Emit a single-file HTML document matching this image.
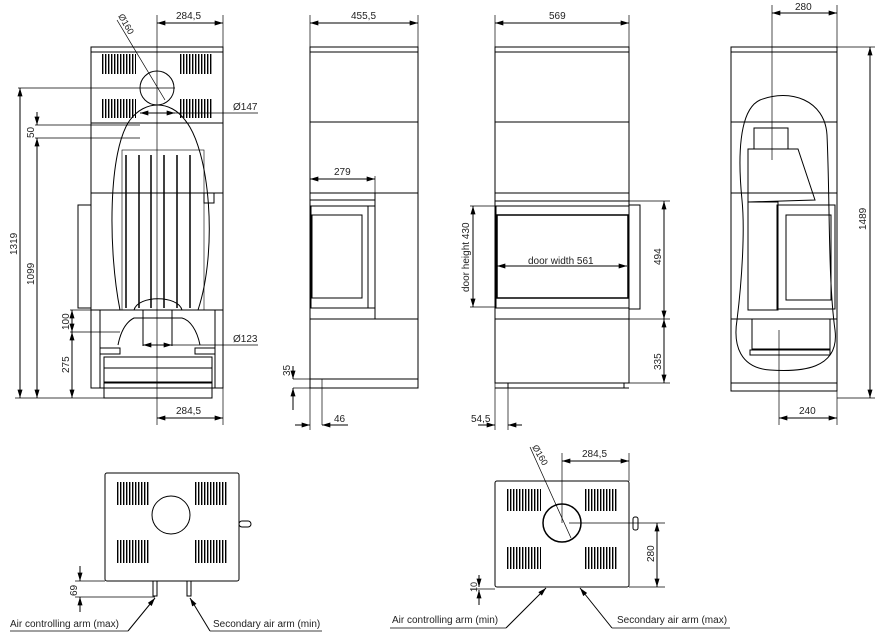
<!DOCTYPE html>
<html><head><meta charset="utf-8"><style>
html,body{margin:0;padding:0;background:#fff}
svg{display:block}
text{font-family:"Liberation Sans",sans-serif;font-size:10px;fill:#222}
</style></head><body>
<svg width="892" height="638" viewBox="0 0 892 638" xmlns="http://www.w3.org/2000/svg">
<defs>
<marker id="a" viewBox="0 0 10 6" refX="10" refY="3" markerWidth="9" markerHeight="5" orient="auto-start-reverse"><path d="M0,0L10,3L0,6z" fill="#000"/></marker>
<pattern id="v" width="3" height="10" patternUnits="userSpaceOnUse"><rect x="0" y="0" width="1.4" height="10" fill="#000"/></pattern>
</defs>
<g fill="none" stroke="#000" stroke-width="1">
<!-- VIEW 1 -->
<rect x="91" y="47" width="132" height="341"/>
<line x1="91" y1="52" x2="223" y2="52"/>
<line x1="91" y1="123" x2="223" y2="123"/>
<line x1="91" y1="193" x2="223" y2="193"/>
<line x1="91" y1="310" x2="223" y2="310"/>
<rect x="78" y="205" width="13" height="103"/>
<rect x="102" y="54" width="34" height="20" fill="url(#v)" stroke="none"/>
<rect x="180" y="54" width="33" height="20" fill="url(#v)" stroke="none"/>
<rect x="102" y="99" width="34" height="19" fill="url(#v)" stroke="none"/>
<rect x="180" y="99" width="33" height="19" fill="url(#v)" stroke="none"/>
<circle cx="157" cy="88" r="17"/>
<path d="M120,310 C108,250 108,150 130,120 C145,100 170,100 185,120 C210,150 218,250 198,310"/>
<rect x="122" y="150" width="82" height="160" stroke-width="0.6"/>
<g stroke-width="1.5"><line x1="126" y1="155" x2="126" y2="308"/><line x1="139" y1="155" x2="139" y2="308"/><line x1="151" y1="155" x2="151" y2="308"/><line x1="164" y1="155" x2="164" y2="308"/><line x1="177" y1="155" x2="177" y2="308"/><line x1="190" y1="155" x2="190" y2="308"/></g>
<rect x="204" y="193" width="10" height="10"/>
<path d="M134,310 C138,295 178,295 182,310 M118,345 C122,325 130,320 134,318 L182,318 C190,320 197,330 200,345"/>
<line x1="143" y1="310" x2="143" y2="346"/><line x1="172" y1="310" x2="172" y2="346"/>
<rect x="100" y="348" width="20" height="6"/><rect x="195" y="348" width="20" height="6"/>
<rect x="104" y="357" width="108" height="11"/>
<rect x="104" y="368" width="108" height="14"/>
<rect x="104" y="383" width="108" height="15"/>
<line x1="100" y1="310" x2="100" y2="388"/><line x1="215" y1="310" x2="215" y2="388"/>
<!-- dims view1 -->
<line x1="157" y1="15" x2="157" y2="425" stroke-width="0.7"/>
<line x1="223" y1="15" x2="223" y2="47" stroke-width="0.7"/>
<line x1="157" y1="23" x2="223" y2="23" marker-start="url(#a)" marker-end="url(#a)"/>
<line x1="117" y1="20" x2="165" y2="100" stroke-width="0.7"/>
<line x1="18" y1="88" x2="175" y2="88" stroke-width="0.7"/>
<line x1="20" y1="88" x2="20" y2="398" marker-start="url(#a)" marker-end="url(#a)"/>
<line x1="35" y1="125" x2="140" y2="125" stroke-width="0.7"/>
<line x1="35" y1="138" x2="140" y2="138" stroke-width="0.7"/>
<line x1="37" y1="112" x2="37" y2="125" marker-end="url(#a)"/>
<line x1="37" y1="138" x2="37" y2="398" marker-start="url(#a)" marker-end="url(#a)"/>
<line x1="15" y1="398" x2="110" y2="398" stroke-width="0.7"/>
<line x1="140" y1="113" x2="258" y2="113" stroke-width="0.7"/>
<line x1="140" y1="113" x2="175" y2="113" marker-start="url(#a)" marker-end="url(#a)"/>
<line x1="70" y1="310" x2="95" y2="310" stroke-width="0.7"/>
<line x1="70" y1="332" x2="120" y2="332" stroke-width="0.7"/>
<line x1="72" y1="310" x2="72" y2="332" marker-start="url(#a)" marker-end="url(#a)"/>
<line x1="72" y1="332" x2="72" y2="398" marker-start="url(#a)" marker-end="url(#a)"/>
<line x1="143" y1="345" x2="258" y2="345" stroke-width="0.7"/>
<line x1="143" y1="345" x2="172" y2="345" marker-start="url(#a)" marker-end="url(#a)"/>
<line x1="223" y1="388" x2="223" y2="425" stroke-width="0.7"/>
<line x1="157" y1="418" x2="223" y2="418" marker-start="url(#a)" marker-end="url(#a)"/>

<!-- VIEW 2 side -->
<rect x="310" y="47" width="108" height="332"/>
<line x1="310" y1="52" x2="418" y2="52"/>
<line x1="310" y1="122" x2="418" y2="122"/>
<line x1="310" y1="193" x2="418" y2="193"/>
<line x1="310" y1="200" x2="375" y2="200"/>
<rect x="311" y="206" width="64" height="102"/>
<rect x="312" y="215" width="50" height="83"/>
<line x1="368" y1="206" x2="368" y2="308"/>
<line x1="375" y1="193" x2="375" y2="319"/>
<line x1="310" y1="319" x2="418" y2="319"/>
<rect x="310" y="379" width="108" height="9"/>
<line x1="322" y1="379" x2="322" y2="425" stroke-width="0.7"/>
<line x1="310" y1="15" x2="310" y2="47" stroke-width="0.7"/><line x1="418" y1="15" x2="418" y2="47" stroke-width="0.7"/>
<line x1="310" y1="23" x2="418" y2="23" marker-start="url(#a)" marker-end="url(#a)"/>
<line x1="375" y1="176" x2="375" y2="193" stroke-width="0.7"/>
<line x1="310" y1="179" x2="375" y2="179" marker-start="url(#a)" marker-end="url(#a)"/>
<line x1="293" y1="379" x2="310" y2="379" stroke-width="0.7"/>
<line x1="293" y1="388" x2="310" y2="388" stroke-width="0.7"/>
<line x1="293" y1="366" x2="293" y2="379" marker-end="url(#a)"/>
<line x1="293" y1="410" x2="293" y2="388" marker-end="url(#a)"/>
<line x1="310" y1="379" x2="310" y2="430" stroke-width="0.7"/>
<line x1="295" y1="425" x2="310" y2="425" marker-end="url(#a)"/>
<line x1="348" y1="425" x2="322" y2="425" marker-end="url(#a)"/>

<!-- VIEW 3 front -->
<rect x="495" y="47" width="134" height="336"/>
<line x1="495" y1="52" x2="629" y2="52"/>
<line x1="495" y1="122" x2="629" y2="122"/>
<line x1="495" y1="193" x2="629" y2="193"/>
<line x1="495" y1="201" x2="629" y2="201"/>
<rect x="496" y="206" width="133" height="102"/>
<rect x="497" y="215" width="131" height="83" stroke-width="1.5"/>
<line x1="495" y1="319" x2="629" y2="319"/>
<rect x="629" y="205" width="11" height="104"/>
<line x1="495" y1="388" x2="629" y2="388"/>
<rect x="508" y="383" width="116" height="5"/>
<line x1="508" y1="383" x2="508" y2="430" stroke-width="0.7"/>
<line x1="495" y1="15" x2="495" y2="47" stroke-width="0.7"/><line x1="629" y1="15" x2="629" y2="47" stroke-width="0.7"/>
<line x1="495" y1="23" x2="629" y2="23" marker-start="url(#a)" marker-end="url(#a)"/>
<line x1="470" y1="206" x2="495" y2="206" stroke-width="0.7"/><line x1="470" y1="307" x2="495" y2="307" stroke-width="0.7"/>
<line x1="473" y1="206" x2="473" y2="307" marker-start="url(#a)" marker-end="url(#a)"/>
<line x1="497" y1="266" x2="627" y2="266" marker-start="url(#a)" marker-end="url(#a)"/>
<line x1="629" y1="201" x2="670" y2="201" stroke-width="0.7"/>
<line x1="629" y1="319" x2="670" y2="319" stroke-width="0.7"/>
<line x1="629" y1="383" x2="670" y2="383" stroke-width="0.7"/>
<line x1="664" y1="201" x2="664" y2="319" marker-start="url(#a)" marker-end="url(#a)"/>
<line x1="664" y1="319" x2="664" y2="383" marker-start="url(#a)" marker-end="url(#a)"/>
<line x1="495" y1="383" x2="495" y2="430" stroke-width="0.7"/>
<line x1="478" y1="425" x2="495" y2="425" marker-end="url(#a)"/>
<line x1="522" y1="425" x2="508" y2="425" marker-end="url(#a)"/>

<!-- VIEW 4 rear -->
<rect x="731" y="47" width="106" height="336"/>
<line x1="731" y1="52" x2="837" y2="52"/>
<line x1="731" y1="122" x2="837" y2="122"/>
<line x1="731" y1="193" x2="837" y2="193"/>
<line x1="731" y1="319" x2="837" y2="319"/>
<rect x="731" y="383" width="106" height="8"/>
<path d="M760,100 C790,88 825,100 827,135 C830,200 828,280 835,330 C840,370 800,372 770,370 C740,368 733,345 737,320 C742,280 745,230 742,200 C738,160 738,110 760,100z"/>
<rect x="754" y="128" width="34" height="21"/>
<path d="M748,149 L798,149 L815,200 L748,202z"/>
<rect x="748" y="202" width="30" height="108"/>
<rect x="777" y="205" width="58" height="104"/>
<rect x="786" y="215" width="45" height="85"/>
<rect x="752" y="319" width="78" height="30"/>
<rect x="750" y="350" width="80" height="5"/>
<line x1="772" y1="5" x2="772" y2="160" stroke-width="0.7"/>
<line x1="837" y1="5" x2="837" y2="47" stroke-width="0.7"/>
<line x1="772" y1="13" x2="837" y2="13" marker-start="url(#a)" marker-end="url(#a)"/>
<line x1="837" y1="47" x2="875" y2="47" stroke-width="0.7"/>
<line x1="837" y1="398" x2="875" y2="398" stroke-width="0.7"/>
<line x1="870" y1="47" x2="870" y2="398" marker-start="url(#a)" marker-end="url(#a)"/>
<line x1="779" y1="330" x2="779" y2="425" stroke-width="0.7"/>
<line x1="837" y1="391" x2="837" y2="425" stroke-width="0.7"/>
<line x1="779" y1="418" x2="837" y2="418" marker-start="url(#a)" marker-end="url(#a)"/>

<!-- BOTTOM VIEW 1 -->
<rect x="105" y="473" width="134" height="108" rx="2"/>
<rect x="117" y="482" width="33" height="23" fill="url(#v)" stroke="none"/>
<rect x="194" y="482" width="34" height="23" fill="url(#v)" stroke="none"/>
<rect x="117" y="540" width="33" height="23" fill="url(#v)" stroke="none"/>
<rect x="194" y="540" width="34" height="23" fill="url(#v)" stroke="none"/>
<circle cx="171" cy="515" r="19"/>
<rect x="239" y="521" width="12" height="6" rx="3"/>
<rect x="153" y="581" width="4" height="15"/><rect x="187" y="581" width="4" height="15"/>
<line x1="75" y1="581" x2="105" y2="581" stroke-width="0.7"/>
<line x1="75" y1="597" x2="155" y2="597" stroke-width="0.7"/>
<line x1="80" y1="566" x2="80" y2="581" marker-end="url(#a)"/>
<line x1="80" y1="612" x2="80" y2="597" marker-end="url(#a)"/>
<line x1="10" y1="631" x2="128" y2="631" stroke-width="0.7"/>
<line x1="128" y1="631" x2="155" y2="598" marker-end="url(#a)"/>
<line x1="322" y1="631" x2="210" y2="631" stroke-width="0.7"/>
<line x1="210" y1="631" x2="190" y2="598" marker-end="url(#a)"/>

<!-- BOTTOM VIEW 2 -->
<rect x="495" y="481" width="134" height="106" rx="2"/>
<rect x="507" y="489" width="34" height="22" fill="url(#v)" stroke="none"/>
<rect x="584" y="489" width="33" height="22" fill="url(#v)" stroke="none"/>
<rect x="507" y="547" width="34" height="22" fill="url(#v)" stroke="none"/>
<rect x="584" y="547" width="33" height="22" fill="url(#v)" stroke="none"/>
<circle cx="562" cy="523" r="19" stroke-width="1.5"/>
<rect x="633" y="517" width="5" height="13" rx="2"/>
<line x1="530" y1="447" x2="571" y2="538" stroke-width="0.7"/>
<line x1="562" y1="453" x2="562" y2="523" stroke-width="0.7"/>
<line x1="629" y1="453" x2="629" y2="481" stroke-width="0.7"/>
<line x1="562" y1="461" x2="629" y2="461" marker-start="url(#a)" marker-end="url(#a)"/>
<line x1="569" y1="523" x2="665" y2="523" stroke-width="0.7"/>
<line x1="629" y1="587" x2="665" y2="587" stroke-width="0.7"/>
<line x1="657" y1="523" x2="657" y2="587" marker-start="url(#a)" marker-end="url(#a)"/>
<line x1="470" y1="589" x2="495" y2="589" stroke-width="0.7"/>
<line x1="479" y1="575" x2="479" y2="587" marker-end="url(#a)"/>
<line x1="479" y1="605" x2="479" y2="590" marker-end="url(#a)"/>
<line x1="390" y1="628" x2="506" y2="628" stroke-width="0.7"/>
<line x1="506" y1="628" x2="546" y2="588" marker-end="url(#a)"/>
<line x1="730" y1="628" x2="612" y2="628" stroke-width="0.7"/>
<line x1="612" y1="628" x2="580" y2="588" marker-end="url(#a)"/>
</g>

<text x="176" y="19">284,5</text>
<text x="118" y="16" transform="rotate(60 118 16)" style="font-size:9px">Ø160</text>
<text x="233" y="110">Ø147</text>
<text x="233" y="342">Ø123</text>
<text x="176" y="414">284,5</text>
<text x="17" y="255" transform="rotate(-90 17 255)">1319</text>
<text x="34" y="285" transform="rotate(-90 34 285)">1099</text>
<text x="34" y="138" transform="rotate(-90 34 138)">50</text>
<text x="69" y="330" transform="rotate(-90 69 330)">100</text>
<text x="69" y="373" transform="rotate(-90 69 373)">275</text>
<text x="351" y="19">455,5</text>
<text x="334" y="175">279</text>
<text x="290" y="376" transform="rotate(-90 290 376)">35</text>
<text x="334" y="422">46</text>
<text x="549" y="19">569</text>
<text x="469" y="292" transform="rotate(-90 469 292)">door height 430</text>
<text x="528" y="264">door width 561</text>
<text x="661" y="265" transform="rotate(-90 661 265)">494</text>
<text x="661" y="370" transform="rotate(-90 661 370)">335</text>
<text x="471" y="422">54,5</text>
<text x="795" y="10">280</text>
<text x="866" y="230" transform="rotate(-90 866 230)">1489</text>
<text x="799" y="414">240</text>
<text x="77" y="596" transform="rotate(-90 77 596)">69</text>
<text x="10" y="627">Air controlling arm  (max)</text>
<text x="213" y="627">Secondary air arm (min)</text>
<text x="582" y="457">284,5</text>
<text x="532" y="447" transform="rotate(60 532 447)" style="font-size:9px">Ø160</text>
<text x="654" y="562" transform="rotate(-90 654 562)">280</text>
<text x="477" y="592" transform="rotate(-90 477 592)" style="font-size:9px">10</text>
<text x="392" y="623">Air controlling arm (min)</text>
<text x="617" y="623">Secondary air arm (max)</text>
</svg>
</body></html>
